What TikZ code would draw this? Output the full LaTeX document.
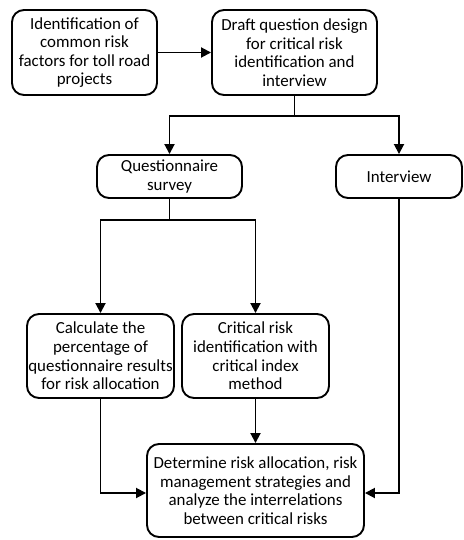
\documentclass[tikz,border=0pt]{standalone}
\usepackage{fontspec}
\setmainfont{Carlito}
\usetikzlibrary{arrows.meta}
\begin{document}
\begin{tikzpicture}[x=1pt,y=-1pt,
  box/.style={draw,line width=1.9pt,rounded corners=12pt,align=center,inner sep=1pt,
    font=\fontsize{16.9}{18.6}\selectfont},
  ln/.style={line width=1.8pt},
  conn/.style={ln,-{Triangle[length=10pt,width=10pt]}}]
\useasboundingbox (0,0) rectangle (463,540);
\node[box,minimum width=145pt,minimum height=85pt] (b1) at (84.5,52.5) {Identification of\\common risk\\factors for toll road\\projects};
\node[box,minimum width=165pt,minimum height=85pt] (b2) at (294.5,52.5) {Draft question design\\for critical risk\\identification and\\interview};
\node[box,minimum width=145pt,minimum height=43pt] (q) at (169.5,176.5) {Questionnaire\\survey};
\node[box,minimum width=126pt,minimum height=43pt] (iv) at (399,176.5) {Interview};
\node[box,minimum width=147pt,minimum height=84pt] (c) at (100.5,356) {Calculate the\\percentage of\\questionnaire results\\for risk allocation};
\node[box,minimum width=147pt,minimum height=84pt] (k) at (255.5,356) {Critical risk\\identification with\\critical index\\method};
\node[box,minimum width=217pt,minimum height=93pt] (f) at (255.5,490.5) {Determine risk allocation, risk\\management strategies and\\analyze the interrelations\\between critical risks};
\draw[conn] (b1) -- (b2);
\draw[ln] (b2.south) -- ++(0,20) coordinate (s1);
\draw[conn] (s1) -| (q.north);
\draw[conn] (s1) -| (iv.north);
\draw[ln] (q.south) -- ++(0,21) coordinate (s2);
\draw[conn] (s2) -| (c.north);
\draw[conn] (s2) -| (k.north);
\draw[conn] (k.south) -- (f.north);
\draw[conn] (c.south) |- ([yshift=-2.5pt]f.west);
\draw[conn] (iv.south) |- ([yshift=-2.5pt]f.east);
\end{tikzpicture}
\end{document}
